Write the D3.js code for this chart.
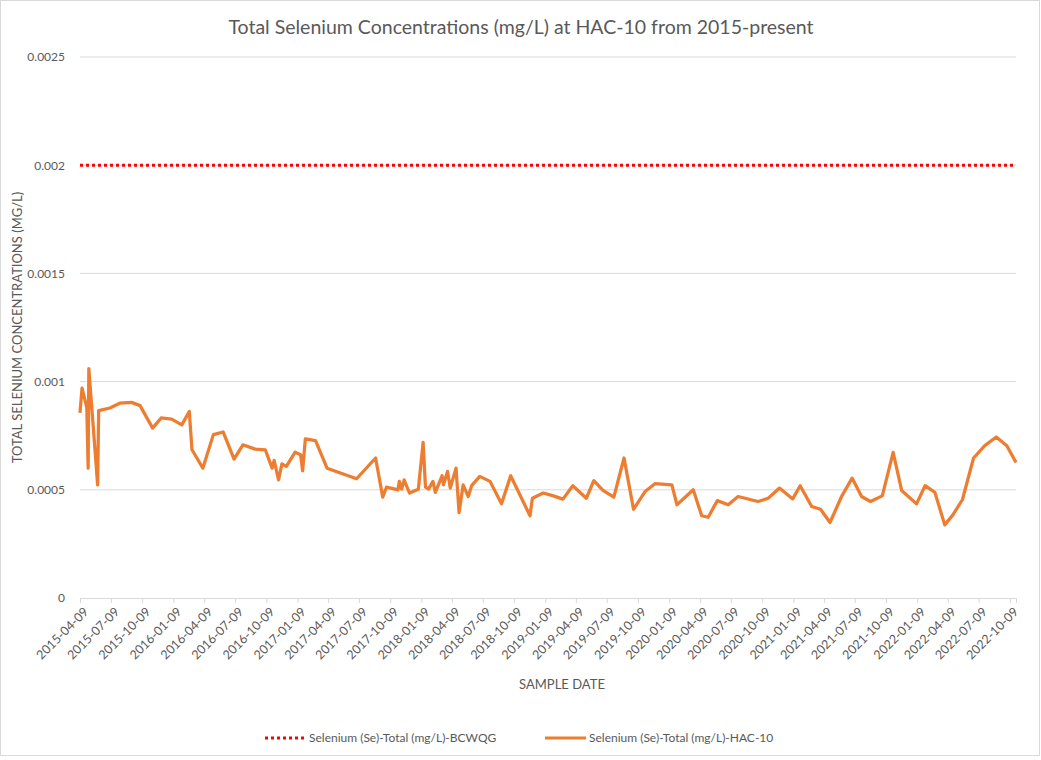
<!DOCTYPE html>
<html>
<head>
<meta charset="utf-8">
<script src="https://cdn.jsdelivr.net/npm/d3@7"></script>
<style>
  body { margin: 0; background: #fff; }
  svg { font-family: Lato, "Liberation Sans", sans-serif; }
</style>
</head>
<body>
<div class="chart"></div>
<script>
// sample dates and total selenium (mg/L) at HAC-10
const dates = [
  "2015-04-09","2015-04-15","2015-04-29","2015-05-03","2015-05-05","2015-05-31","2015-06-03","2015-07-06",
  "2015-08-04","2015-09-08","2015-10-03","2015-11-09","2015-12-04","2016-01-04","2016-02-03","2016-02-25",
  "2016-03-04","2016-04-05","2016-05-06","2016-06-04","2016-07-06","2016-08-01","2016-09-06","2016-10-06",
  "2016-10-26","2016-11-01","2016-11-14","2016-11-24","2016-12-07","2017-01-02","2017-01-18","2017-01-24",
  "2017-02-01","2017-03-03","2017-04-06","2017-07-02","2017-08-27","2017-09-17","2017-09-28","2017-11-01",
  "2017-11-05","2017-11-12","2017-11-19","2017-12-05","2017-12-31","2018-01-14","2018-01-21","2018-01-30",
  "2018-02-12","2018-02-19","2018-03-11","2018-03-15","2018-03-27","2018-04-04","2018-04-21","2018-04-30",
  "2018-05-12","2018-05-27","2018-06-06","2018-06-30","2018-07-30","2018-09-02","2018-09-29","2018-11-25",
  "2018-12-02","2019-01-03","2019-02-02","2019-03-02","2019-03-31","2019-05-10","2019-06-01","2019-06-28",
  "2019-07-30","2019-08-29","2019-09-26","2019-10-30","2019-11-28","2020-01-17","2020-02-01","2020-03-20",
  "2020-04-14","2020-05-03","2020-05-30","2020-07-01","2020-07-30","2020-09-27","2020-10-27","2020-11-29",
  "2021-01-07","2021-01-29","2021-03-04","2021-03-30","2021-04-27","2021-05-31","2021-07-01","2021-07-29",
  "2021-08-24","2021-09-28","2021-10-30","2021-11-24","2022-01-07","2022-02-01","2022-03-02","2022-03-31",
  "2022-04-24","2022-05-22","2022-06-24","2022-07-27","2022-08-30","2022-09-30","2022-10-27"
];
const hac10 = [
  0.000855,0.00097,0.00088,0.0006,0.00106,0.000523,0.000866,0.000878,
  0.0009,0.000904,0.000889,0.000785,0.000832,0.000827,0.0008,0.000862,
  0.000685,0.0006,0.000755,0.000767,0.000642,0.000708,0.000688,0.000685,
  0.0006,0.000636,0.000546,0.00062,0.000608,0.000674,0.000662,0.000588,
  0.000735,0.000727,0.0006,0.000551,0.000647,0.000466,0.000512,0.0005,
  0.000539,0.000503,0.000546,0.000485,0.000503,0.000719,0.000512,0.000503,
  0.000539,0.000488,0.000565,0.000523,0.000585,0.000508,0.0006,0.000395,
  0.000523,0.000469,0.000519,0.000562,0.000539,0.000435,0.000565,0.00038,
  0.000461,0.000485,0.000472,0.000457,0.000519,0.000461,0.000542,0.000497,
  0.000466,0.000647,0.00041,0.000492,0.000528,0.000523,0.000431,0.0005,
  0.00038,0.000373,0.00045,0.000431,0.000469,0.000446,0.000461,0.000508,
  0.000458,0.000519,0.000423,0.00041,0.000349,0.000469,0.000554,0.000469,
  0.000446,0.000472,0.000673,0.000497,0.000435,0.000519,0.000488,0.000338,
  0.000384,0.000454,0.000647,0.000704,0.000744,0.000704,0.000626
];
const bcwqg = 0.002;
const yTicks = [0, 0.0005, 0.001, 0.0015, 0.002, 0.0025];

const width = 1041, height = 760;
const margin = { top: 57, right: 25, bottom: 162, left: 80 };

const parse = d3.timeParse("%Y-%m-%d");
const fmt = d3.timeFormat("%Y-%m-%d");
const data = dates.map((d, i) => ({ date: parse(d), value: hac10[i] }));

const x = d3.scaleTime()
  .domain(d3.extent(data, d => d.date))
  .range([margin.left, width - margin.right]);

const y = d3.scaleLinear()
  .domain([0, 0.0025])
  .range([height - margin.bottom, margin.top]);

// a tick every 3 months counted from the first sample
let xTicks = [];
for (let t = x.domain()[0]; t <= x.domain()[1]; t = d3.timeMonth.offset(t, 3)) xTicks.push(t);

const svg = d3.select(".chart").append("svg")
  .attr("width", width)
  .attr("height", height);

svg.append("rect")
  .attr("x", 0.5).attr("y", 0.5)
  .attr("width", width - 2).attr("height", height - 5)
  .attr("fill", "#fff")
  .attr("stroke", "#d9d9d9");

svg.append("text")
  .attr("x", 521).attr("y", 34)
  .attr("text-anchor", "middle")
  .attr("font-size", 19.5)
  .attr("fill", "#595959")
  .text("Total Selenium Concentrations (mg/L) at HAC-10 from 2015-present");

// gridlines
svg.append("g")
  .selectAll("line")
  .data(yTicks.filter(t => t > 0))
  .join("line")
  .attr("x1", margin.left).attr("x2", width - margin.right)
  .attr("y1", d => y(d)).attr("y2", d => y(d))
  .attr("stroke", "#d9d9d9");

// y axis labels
const yAxis = svg.append("g")
  .attr("transform", "translate(" + (margin.left - 12) + ",0)")
  .call(d3.axisLeft(y).tickValues(yTicks).tickSize(0).tickFormat(d => String(+d.toFixed(4))));
yAxis.select(".domain").remove();
yAxis.selectAll("text")
  .attr("font-family", "Lato, sans-serif")
  .attr("font-size", 12)
  .attr("fill", "#595959");

// x axis
const xAxis = svg.append("g")
  .attr("transform", "translate(0," + y(0) + ")")
  .call(d3.axisBottom(x).tickValues(xTicks).tickSize(5).tickFormat(fmt));
xAxis.select(".domain").attr("stroke", "#d9d9d9");
xAxis.selectAll(".tick line").attr("stroke", "#d9d9d9");
xAxis.selectAll("text")
  .attr("font-family", "Lato, sans-serif")
  .attr("font-size", 12.5)
  .attr("fill", "#595959")
  .attr("text-anchor", "end")
  .attr("dy", 0)
  .attr("transform", "translate(3,9) rotate(-45)");

svg.append("text")
  .attr("transform", "translate(22," + (y(0.00125)) + ") rotate(-90)")
  .attr("text-anchor", "middle")
  .attr("font-size", 13)
  .attr("fill", "#595959")
  .text("TOTAL SELENIUM CONCENTRATIONS (MG/L)");

svg.append("text")
  .attr("x", 562).attr("y", 689)
  .attr("text-anchor", "middle")
  .attr("font-size", 13)
  .attr("fill", "#595959")
  .text("SAMPLE DATE");

// guideline
svg.append("line")
  .attr("x1", margin.left).attr("x2", width - margin.right - 3)
  .attr("y1", y(bcwqg)).attr("y2", y(bcwqg))
  .attr("stroke", "#ff0000")
  .attr("stroke-width", 3)
  .attr("stroke-dasharray", "3 3");

const line = d3.line()
  .x(d => x(d.date))
  .y(d => y(d.value));

svg.append("path")
  .datum(data)
  .attr("d", line)
  .attr("fill", "none")
  .attr("stroke", "#ed7d31")
  .attr("stroke-width", 3.25)
  .attr("stroke-linejoin", "round");

// legend
const legend = svg.append("g").attr("font-size", 12).attr("fill", "#595959");
legend.append("line")
  .attr("x1", 265).attr("x2", 305).attr("y1", 738).attr("y2", 738)
  .attr("stroke", "#ff0000").attr("stroke-width", 3).attr("stroke-dasharray", "3 3");
legend.append("text").attr("x", 309).attr("y", 742).text("Selenium (Se)-Total (mg/L)-BCWQG");
legend.append("line")
  .attr("x1", 545).attr("x2", 586).attr("y1", 738).attr("y2", 738)
  .attr("stroke", "#ed7d31").attr("stroke-width", 3);
legend.append("text").attr("x", 589).attr("y", 742).text("Selenium (Se)-Total (mg/L)-HAC-10");
</script>
</body>
</html>
